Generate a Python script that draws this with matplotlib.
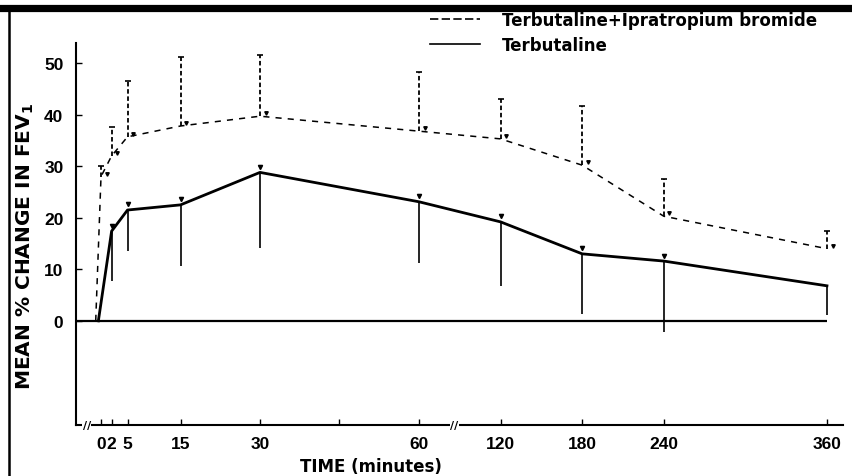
import numpy as np
import matplotlib
matplotlib.use("Agg")
import matplotlib.pyplot as plt
from matplotlib.lines import Line2D
from matplotlib.transforms import offset_copy

# time (minutes) and mean % change in FEV1
combo_time = [-1, 0, 2, 5, 15, 30, 60, 120, 180, 240, 360]
combo_mean = [0, 28, 32, 35.7, 37.8, 39.7, 36.8, 35.3, 30.2, 20.3, 14.0]
combo_upper = [np.nan, 30.0, 37.6, 46.5, 51.2, 51.6, 48.3, 43.0, 41.7, 27.5, 17.4]

terb_time = [-0.5, 2, 5, 15, 30, 60, 120, 180, 240, 360]
terb_mean = [0, 17.4, 21.5, 22.5, 28.8, 23.1, 19.2, 13.0, 11.6, 6.8]
terb_lower = [np.nan, 7.8, 13.6, 10.6, 14.1, 11.3, 6.7, 1.4, -2.1, 1.2]

xticks = [0, 2, 5, 15, 30, 45, 60, 120, 180, 240, 360]
xticklabels = ["0", "2", "5", "15", "30", "", "60", "120", "180", "240", "360"]
yticks = [0, 10, 20, 30, 40, 50]


# broken time axis: 0-60 min stretched, 60-360 min compressed
def fwd(t):
    t = np.asarray(t, float)
    return np.where(t <= 60, t * 5.3, 318 + (t - 60) * 1.36)


def inv(p):
    p = np.asarray(p, float)
    return np.where(p <= 318, p / 5.3, 60 + (p - 318) / 1.36)


num_font = "Liberation Sans"
txt_font = "DejaVu Sans"

fig = plt.figure(figsize=(8.53, 4.77), dpi=100)
ax = fig.add_axes([76 / 853, 1 - 426 / 477, (843 - 76) / 853, (426 - 44) / 477])
ax.set_xscale("function", functions=(fwd, inv))
xmin, xmax = -4.72, 371.8
ymin, ymax = -20.2, 53.9
ax.set_xlim(xmin, xmax)
ax.set_ylim(ymin, ymax)

# zero line
ax.hlines(0, xmin, 360, color="black", lw=1.6)

# terbutaline + ipratropium (dashed, upper bars)
ax.plot(combo_time, combo_mean, color="black", lw=1.1, ls=(0, (4, 4)))
ax.vlines(combo_time, combo_mean, combo_upper, color="black", lw=1.3, ls=(0, (2.5, 1.5)))
ax.plot(combo_time[1:], combo_upper[1:], ls="none", marker="_", ms=4, mew=1.2, color="black")
mk = offset_copy(ax.transData, fig=fig, x=4, y=2, units="points")
ax.plot(combo_time[1:], combo_mean[1:], ls="none", marker="v", ms=2.5, color="black", transform=mk)

# terbutaline alone (solid, lower bars)
ax.plot(terb_time, terb_mean, color="black", lw=2.0, solid_joinstyle="round")
ax.vlines(terb_time, terb_lower, terb_mean, color="black", lw=1.2)
mk2 = offset_copy(ax.transData, fig=fig, x=0, y=4, units="points")
ax.plot(terb_time[1:-1], terb_mean[1:-1], ls="none", marker="v", ms=3, color="black", transform=mk2)

# axes styling
for side in ["top", "right"]:
    ax.spines[side].set_visible(False)
ax.spines["left"].set_linewidth(1.5)
ax.spines["bottom"].set_linewidth(1.5)
ax.set_xticks(xticks)
ax.set_xticklabels(xticklabels)
ax.set_yticks(yticks)
ax.tick_params(axis="both", direction="in", length=4, width=1)
ax.tick_params(axis="y", pad=9)
ax.tick_params(axis="x", pad=8)
for lab in ax.get_xticklabels() + ax.get_yticklabels():
    lab.set_fontfamily(num_font)
    lab.set_fontweight("bold")
    lab.set_fontsize(12.5)

# axis break marks
for tb in [-2.7, 86]:
    ax.text(tb, ymin, "//", ha="center", va="center", fontsize=8, fontweight="bold",
            clip_on=False, bbox=dict(facecolor="white", edgecolor="none", pad=0.3))

ax.set_ylabel(r"MEAN % CHANGE IN FEV$_\mathbf{1}$", fontfamily=txt_font, fontweight="bold",
              fontsize=14.5)
ax.yaxis.set_label_coords(-0.052, 0.47)
ax.set_xlabel("TIME (minutes)", fontfamily=txt_font, fontweight="bold", fontsize=12)
ax.xaxis.set_label_coords(0.385, -0.085)

handles = [Line2D([], [], color="black", lw=1.2, ls=(0, (5, 2))),
           Line2D([], [], color="black", lw=1.2)]
fig.legend(handles, ["Terbutaline+Ipratropium bromide", "Terbutaline"],
           loc="upper left", bbox_to_anchor=(430 / 853, 1 - 12 / 477), frameon=False,
           prop=dict(family=txt_font, weight="bold", size=12), handlelength=3.0,
           handletextpad=1.3, labelspacing=0.4, borderpad=0, borderaxespad=0)

# scanned page frame
fig.add_artist(Line2D([0, 1], [1 - 8.5 / 477] * 2, color="black", lw=5.2))
fig.add_artist(Line2D([9 / 853] * 2, [0, 1 - 8.5 / 477], color="black", lw=1.8))

fig.savefig("out.png", dpi=100)
